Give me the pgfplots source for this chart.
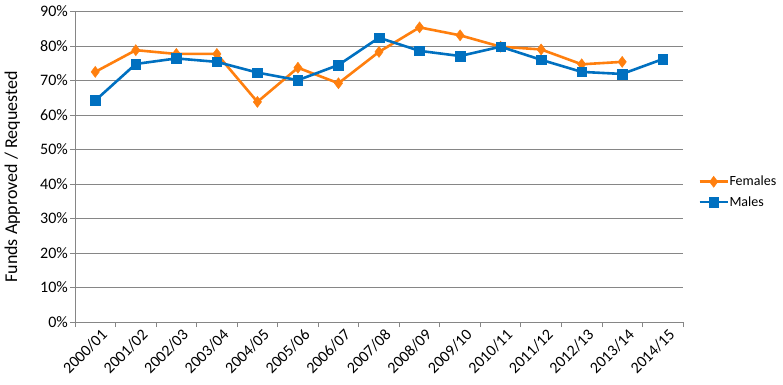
\documentclass[border=0pt]{standalone}
\usepackage{pgfplots}
\pgfplotsset{compat=1.18}
\usepackage{fontspec}
\setmainfont{Carlito}
\definecolor{forange}{HTML}{FF7F0E}
\definecolor{mblue}{HTML}{0070C0}
\definecolor{gridgray}{HTML}{868686}
\begin{document}
\begin{tikzpicture}
\path[use as bounding box] (0,0) rectangle (783pt,384pt);
\begin{axis}[
  at={(75pt,62pt)}, anchor=south west,
  scale only axis, width=608pt, height=310.5pt,
  xmin=-0.5, xmax=14.5, ymin=0, ymax=90,
  axis x line*=bottom, axis y line*=left,
  axis line style={gridgray, line width=0.8pt, -},
  major tick length=5pt, tick align=outside,
  xtick={0,...,14},
  xticklabels={2000/01,2001/02,2002/03,2003/04,2004/05,2005/06,2006/07,2007/08,2008/09,2009/10,2010/11,2011/12,2012/13,2013/14,2014/15},
  major x tick style={draw=none},
  extra x ticks={-0.5,0.5,...,14.5},
  extra x tick labels={},
  extra x tick style={grid=none, major x tick style={draw=gridgray, line width=0.8pt}},
  xticklabel style={rotate=45, anchor=north east, inner sep=1pt, yshift=-3pt, xshift=4pt},
  ytick={0,10,...,90},
  yticklabel={\pgfmathprintnumber{\tick}\%},
  ymajorgrids, grid style={gridgray, line width=0.8pt},
  major y tick style={gridgray, line width=0.8pt},
  yticklabel style={inner sep=2pt},
  ticklabel style={font=\fontsize{16}{18}\selectfont},
  /pgf/number format/assume math mode=true,
  ylabel={Funds Approved / Requested},
  ylabel style={at={(axis description cs:-0.103,0.467)}, anchor=center, font=\fontsize{18}{20}\selectfont},
  legend style={at={(1.025,0.419)}, anchor=west, draw=none, fill=none, font=\fontsize{14}{16}\selectfont, row sep=8pt, inner sep=0pt, nodes={inner sep=0.5pt}},
  legend cell align=left,
  legend image code/.code={\draw[mark repeat=2,mark phase=2] plot coordinates {(0pt,0pt)(14pt,0pt)(28pt,0pt)};},
  clip=false,
]
\addplot[forange, line width=2.6pt, mark=diamond*, mark size=5.5pt, mark options={solid, line width=0.5pt}]
 coordinates {(0,72.5)(1,78.8)(2,77.7)(3,77.7)(4,63.8)(5,73.7)(6,69.2)(7,78.3)(8,85.4)(9,83.1)(10,79.8)(11,79.0)(12,74.7)(13,75.4)};
\addlegendentry{Females}
\addplot[mblue, line width=2.6pt, mark=square*, mark size=4.8pt, mark options={solid, line width=0.5pt}]
 coordinates {(0,64.2)(1,74.8)(2,76.4)(3,75.4)(4,72.3)(5,70.1)(6,74.5)(7,82.4)(8,78.6)(9,77.1)(10,79.8)(11,76.0)(12,72.5)(13,71.9)(14,76.2)};
\addlegendentry{Males}
\end{axis}
\end{tikzpicture}
\end{document}
